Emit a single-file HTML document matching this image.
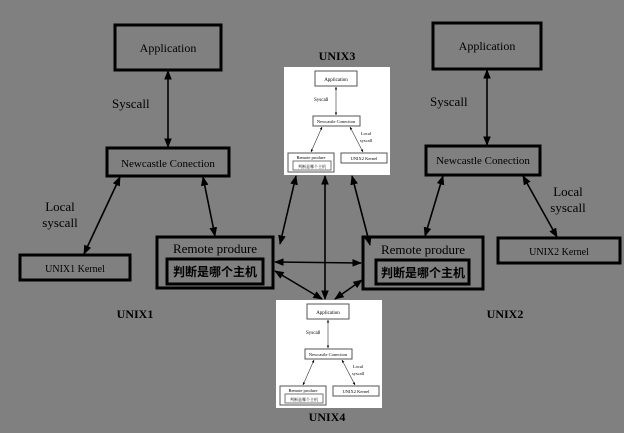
<!DOCTYPE html>
<html><head><meta charset="utf-8"><style>
html,body{margin:0;padding:0;background:#808080;}
svg{display:block;font-family:"Liberation Serif","Noto Serif CJK SC",serif;}
</style></head><body>
<svg width="624" height="433" viewBox="0 0 624 433" xmlns="http://www.w3.org/2000/svg">
<defs>
<marker id="a" viewBox="0 0 10 10" refX="9" refY="5" markerWidth="6" markerHeight="6" orient="auto-start-reverse"><path d="M0,1 L10,5 L0,9 z" fill="#000"/></marker>
<marker id="s" viewBox="0 0 10 10" refX="9" refY="5" markerWidth="5" markerHeight="5" orient="auto-start-reverse"><path d="M0,1 L10,5 L0,9 z" fill="#000"/></marker>
<g id="mini">
<rect x="0" y="0" width="106" height="108" fill="#fff"/>
<rect x="31" y="4" width="42" height="15" fill="none" stroke="#555" stroke-width="1"/>
<text x="52" y="14" font-size="5" text-anchor="middle">Application</text>
<line x1="52" y1="20" x2="52" y2="48" stroke="#333" stroke-width="0.6" marker-start="url(#s)" marker-end="url(#s)"/>
<text x="30" y="34" font-size="5">Syscall</text>
<rect x="29" y="49" width="47" height="10" fill="none" stroke="#555" stroke-width="1"/>
<text x="52" y="56" font-size="4.5" text-anchor="middle">Newcastle Conection</text>
<line x1="38" y1="60" x2="27" y2="85" stroke="#333" stroke-width="0.6" marker-start="url(#s)" marker-end="url(#s)"/>
<line x1="66" y1="60" x2="79" y2="85" stroke="#333" stroke-width="0.6" marker-start="url(#s)" marker-end="url(#s)"/>
<text x="82" y="68" font-size="4.5" text-anchor="middle">Local</text>
<text x="82" y="75" font-size="4.5" text-anchor="middle">syscall</text>
<rect x="4" y="86" width="46" height="19" fill="none" stroke="#555" stroke-width="1"/>
<text x="27" y="92" font-size="4.5" text-anchor="middle">Remote produre</text>
<rect x="9" y="94" width="38" height="9" fill="none" stroke="#555" stroke-width="0.8"/>
<text x="28" y="101" font-size="4" text-anchor="middle">判断是哪个主机</text>
<rect x="57" y="86" width="46" height="10" fill="none" stroke="#555" stroke-width="1"/>
<text x="80" y="93" font-size="4.5" text-anchor="middle">UNIX2 Kernel</text>
</g>
</defs>
<g stroke="#000" stroke-width="3" fill="none">
<rect x="115" y="25" width="106" height="45"/>
<rect x="107" y="148" width="122" height="28"/>
<rect x="20" y="255" width="110" height="25"/>
<rect x="157" y="237" width="116" height="51"/>
<rect x="167" y="259" width="96" height="25"/>
<rect x="433" y="23" width="108" height="46"/>
<rect x="426" y="146" width="114" height="29"/>
<rect x="363" y="237" width="120" height="52"/>
<rect x="376" y="260" width="93" height="24"/>
<rect x="498" y="238" width="122" height="25"/>
</g>
<g fill="#000" font-size="12">
<text x="168" y="52" text-anchor="middle">Application</text>
<text x="168" y="167" text-anchor="middle" font-size="11">Newcastle Conection</text>
<text x="75" y="272" text-anchor="middle" font-size="10">UNIX1 Kernel</text>
<text x="215" y="253" text-anchor="middle" font-size="13">Remote produre</text>
<text x="215" y="276" text-anchor="middle" font-size="12" font-family="Noto Sans CJK SC,sans-serif" font-weight="bold">判断是哪个主机</text>
<text x="487" y="50" text-anchor="middle">Application</text>
<text x="483" y="164" text-anchor="middle" font-size="11">Newcastle Conection</text>
<text x="423" y="254" text-anchor="middle" font-size="13">Remote produre</text>
<text x="423" y="277" text-anchor="middle" font-size="12" font-family="Noto Sans CJK SC,sans-serif" font-weight="bold">判断是哪个主机</text>
<text x="559" y="255" text-anchor="middle" font-size="10">UNIX2 Kernel</text>
<text x="112" y="108" font-size="13">Syscall</text>
<text x="430" y="106" font-size="13">Syscall</text>
<text x="60" y="211" text-anchor="middle" font-size="13">Local</text>
<text x="60" y="227" text-anchor="middle" font-size="13">syscall</text>
<text x="568" y="196" text-anchor="middle" font-size="13">Local</text>
<text x="568" y="212" text-anchor="middle" font-size="13">syscall</text>
<text x="135" y="318" text-anchor="middle" font-weight="bold" font-size="12">UNIX1</text>
<text x="505" y="318" text-anchor="middle" font-weight="bold" font-size="12">UNIX2</text>
<text x="337" y="60" text-anchor="middle" font-weight="bold" font-size="12">UNIX3</text>
<text x="327" y="421" text-anchor="middle" font-weight="bold" font-size="12">UNIX4</text>
</g>
<use href="#mini" x="284" y="67"/>
<use href="#mini" x="276" y="300"/>
<g stroke="#000" stroke-width="1.6" marker-start="url(#a)" marker-end="url(#a)">
<line x1="168" y1="71" x2="168" y2="147"/>
<line x1="487" y1="70" x2="487" y2="145"/>
<line x1="120" y1="177" x2="84" y2="254"/>
<line x1="203" y1="177" x2="215" y2="236"/>
<line x1="443" y1="176" x2="425" y2="236"/>
<line x1="523" y1="176" x2="557" y2="237"/>
<line x1="296" y1="176" x2="280" y2="244"/>
<line x1="325" y1="176" x2="325" y2="299"/>
<line x1="352" y1="176" x2="370" y2="245"/>
<line x1="275" y1="262" x2="361" y2="263"/>
<line x1="275" y1="271" x2="322" y2="299"/>
<line x1="362" y1="280" x2="335" y2="299"/>
</g>
</svg>
</body></html>
